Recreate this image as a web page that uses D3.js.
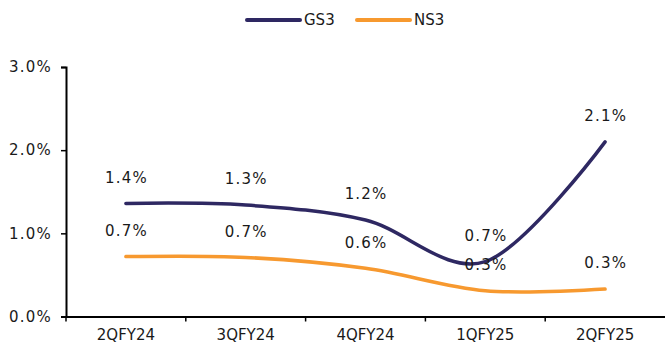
<!DOCTYPE html>
<html>
<head>
<meta charset="utf-8">
<script src="https://cdn.jsdelivr.net/npm/d3@7"></script>
<style>
  html, body { margin: 0; padding: 0; background: #fff; }
  svg text { font-family: "DejaVu Sans", Verdana, sans-serif; fill: #1a1a1a; }
</style>
</head>
<body>
<svg id="chart" width="665" height="352"></svg>
<script>
// Quarterly ratios (in %)
const categories = ["2QFY24", "3QFY24", "4QFY24", "1QFY25", "2QFY25"];
const gs3 = [1.36, 1.34, 1.16, 0.66, 2.10];
const ns3 = [0.72, 0.71, 0.58, 0.31, 0.33];
const yTicks = [0, 1, 2, 3];

const series = [
  { name: "GS3", values: gs3, color: "#2e2862" },
  { name: "NS3", values: ns3, color: "#f7992f" }
];

const svg = d3.select("#chart");
const margin = { left: 66, right: 0, top: 67, bottom: 35.5 };
const W = 665, H = 352;

const x = d3.scaleBand().domain(categories).range([margin.left, W - margin.right]).padding(0);
const y = d3.scaleLinear().domain([0, 3]).range([H - margin.bottom, margin.top]);

const pct = d => d.toFixed(1) + "%";

// Y axis
const yAxis = svg.append("g")
  .attr("transform", `translate(${margin.left},0)`)
  .call(d3.axisLeft(y).tickValues(yTicks).tickFormat(pct).tickSizeOuter(0).tickSize(5).tickPadding(9));
yAxis.select(".domain").attr("stroke", "#000").attr("stroke-width", 2);
yAxis.selectAll(".tick line").attr("stroke", "#000").attr("stroke-width", 1.5);
yAxis.selectAll("text")
  .attr("font-size", 15).attr("fill", "#1a1a1a")
  .attr("letter-spacing", 1.2)
  .style("font-family", "DejaVu Sans, Verdana, sans-serif");

// X axis
const xAxis = svg.append("g")
  .attr("transform", `translate(0,${y(0)})`)
  .call(d3.axisBottom(x).tickSize(0).tickPadding(13));
xAxis.select(".domain").attr("stroke", "#000").attr("stroke-width", 2);
xAxis.selectAll("text").attr("font-size", 15).attr("fill", "#1a1a1a").style("font-family", "DejaVu Sans, Verdana, sans-serif");
// category separators
xAxis.selectAll(".sep")
  .data(categories)
  .enter().append("line")
  .attr("x1", d => x(d)).attr("x2", d => x(d))
  .attr("y1", 0).attr("y2", 5)
  .attr("stroke", "#000").attr("stroke-width", 1.5);

const cx = d => x(d) + x.bandwidth() / 2;

const line = d3.line()
  .x((d, i) => cx(categories[i]))
  .y(d => y(d))
  .curve(d3.curveCardinal.tension(0));

series.forEach(s => {
  svg.append("path")
    .datum(s.values)
    .attr("d", line)
    .attr("fill", "none")
    .attr("stroke", s.color)
    .attr("stroke-width", 3.5)
    .attr("stroke-linecap", "round");
});

// Data labels above each point
series.forEach(s => {
  svg.append("g").selectAll("text")
    .data(s.values)
    .enter().append("text")
    .attr("x", (d, i) => cx(categories[i]) + 0.6)
    .attr("y", d => y(d) - 26)
    .attr("dy", "0.35em")
    .attr("text-anchor", "middle")
    .attr("font-size", 15)
    .attr("letter-spacing", 1.2)
    .text(pct);
});

// Legend
const legend = svg.append("g");
const legendItems = [{ s: series[0], x: 247 }, { s: series[1], x: 357 }];
legendItems.forEach(it => {
  legend.append("line")
    .attr("x1", it.x).attr("x2", it.x + 53)
    .attr("y1", 20).attr("y2", 20)
    .attr("stroke", it.s.color).attr("stroke-width", 4)
    .attr("stroke-linecap", "round");
  legend.append("text")
    .attr("x", it.x + 57).attr("y", 20).attr("dy", "0.35em")
    .attr("font-size", 15)
    .text(it.s.name);
});
</script>
</body>
</html>
